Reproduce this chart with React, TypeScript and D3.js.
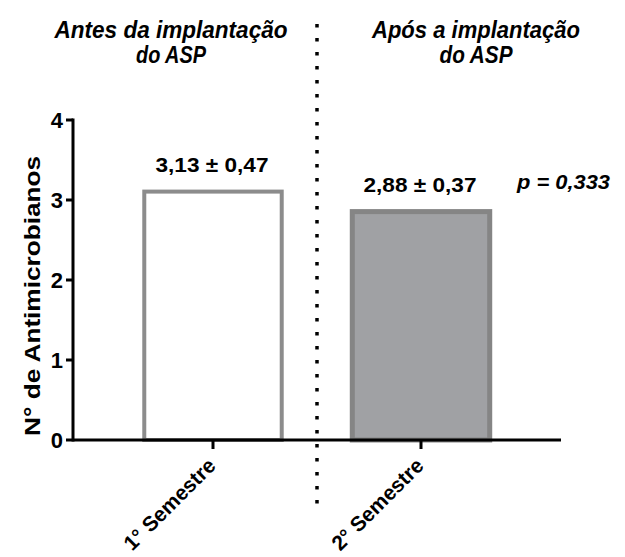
import React, { useEffect, useRef } from 'react';
import * as d3 from 'd3';

const categories = ['1° Semestre', '2° Semestre'];
const means = [3.13, 2.88];
const valueLabels = ['3,13 ± 0,47', '2,88 ± 0,37'];
const pLabel = 'p = 0,333';
const headers = [
  ['Antes da implantação', 'do ASP'],
  ['Após a implantação', 'do ASP'],
];
const yTicks = [0, 1, 2, 3, 4];

const fills = ['#ffffff', '#a0a1a4'];
const strokes = ['#8c8c8c', '#858585'];

export default function App() {
  const svgRef = useRef<SVGSVGElement>(null);

  useEffect(() => {
    const width = 625;
    const height = 557;
    const font = '"Liberation Sans", Arial, sans-serif';

    const svg = d3.select(svgRef.current)
      .attr('width', width)
      .attr('height', height)
      .style('font-family', font);
    svg.selectAll('*').remove();

    const axisX = 73;
    const baseY = 440;

    const y = d3.scaleLinear().domain([0, 4]).range([baseY, 120]);
    const x = d3.scaleBand()
      .domain(categories)
      .range([109, 525])
      .paddingInner(0.32)
      .paddingOuter(0.16);

    // bars
    svg.selectAll('.bar')
      .data(means)
      .enter()
      .append('rect')
      .attr('x', (d, i) => x(categories[i])! + 2)
      .attr('y', (d) => y(d) + 2)
      .attr('width', x.bandwidth() - 4)
      .attr('height', (d) => baseY - y(d) - 2)
      .attr('fill', (d, i) => fills[i])
      .attr('stroke', (d, i) => strokes[i])
      .attr('stroke-width', (d, i) => (i === 0 ? 4 : 5));

    // dotted separator
    const midX = (x(categories[0])! + x.bandwidth() + x(categories[1])!) / 2;
    svg.append('line')
      .attr('x1', midX).attr('x2', midX)
      .attr('y1', 24).attr('y2', 514)
      .attr('stroke', '#000')
      .attr('stroke-width', 3.5)
      .attr('stroke-dasharray', '3.5 10.5');

    // y axis
    svg.append('line')
      .attr('x1', axisX).attr('x2', axisX)
      .attr('y1', y(4) - 1.5).attr('y2', baseY + 1.5)
      .attr('stroke', '#000').attr('stroke-width', 3);
    const yg = svg.append('g');
    yTicks.forEach((t) => {
      yg.append('line')
        .attr('x1', axisX - 7).attr('x2', axisX)
        .attr('y1', y(t)).attr('y2', y(t))
        .attr('stroke', '#000').attr('stroke-width', 3);
      yg.append('text')
        .attr('x', axisX - 10)
        .attr('y', y(t))
        .attr('dy', '0.36em')
        .attr('text-anchor', 'end')
        .attr('font-weight', 'bold')
        .attr('font-size', 22)
        .text(t);
    });

    // x axis
    svg.append('line')
      .attr('x1', axisX).attr('x2', 561)
      .attr('y1', baseY).attr('y2', baseY)
      .attr('stroke', '#000').attr('stroke-width', 3);
    categories.forEach((c) => {
      const cx = x(c)! + x.bandwidth() / 2;
      svg.append('line')
        .attr('x1', cx).attr('x2', cx)
        .attr('y1', baseY).attr('y2', baseY + 9)
        .attr('stroke', '#000').attr('stroke-width', 3);
      svg.append('text')
        .attr('transform', `translate(${cx + 4},${baseY + 27}) rotate(-45)`)
        .attr('text-anchor', 'end')
        .attr('font-weight', 'bold')
        .attr('font-size', 21)
        .attr('textLength', 120)
        .attr('lengthAdjust', 'spacingAndGlyphs')
        .text(c);
    });

    // y label
    svg.append('text')
      .attr('transform', `translate(40,296) rotate(-90)`)
      .attr('text-anchor', 'middle')
      .attr('font-weight', 'bold')
      .attr('font-size', 22)
      .attr('textLength', 280)
      .attr('lengthAdjust', 'spacingAndGlyphs')
      .text('N° de Antimicrobianos');

    // value labels
    means.forEach((m, i) => {
      svg.append('text')
        .attr('x', x(categories[i])! + x.bandwidth() / 2 - 1)
        .attr('y', y(m) - 18)
        .attr('text-anchor', 'middle')
        .attr('font-weight', 'bold')
        .attr('font-size', 21)
        .attr('textLength', 113)
        .attr('lengthAdjust', 'spacingAndGlyphs')
        .text(valueLabels[i]);
    });

    svg.append('text')
      .attr('x', 517)
      .attr('y', y(means[1]) - 21)
      .attr('font-weight', 'bold')
      .attr('font-style', 'italic')
      .attr('font-size', 21)
      .attr('textLength', 93)
      .attr('lengthAdjust', 'spacingAndGlyphs')
      .text(pLabel);

    // headers
    const headerX = [171, 476];
    const headerW = [[233, 70], [208, 73]];
    headers.forEach((lines, i) => {
      lines.forEach((ln, j) => {
        svg.append('text')
          .attr('x', headerX[i])
          .attr('y', 38 + j * 25)
          .attr('text-anchor', 'middle')
          .attr('font-weight', 'bold')
          .attr('font-style', 'italic')
          .attr('font-size', 23)
          .attr('textLength', headerW[i][j])
          .attr('lengthAdjust', 'spacingAndGlyphs')
          .text(ln);
      });
    });
  }, []);

  return <svg ref={svgRef} style={{ position: 'absolute', left: 0, top: 0 }}></svg>;
}
